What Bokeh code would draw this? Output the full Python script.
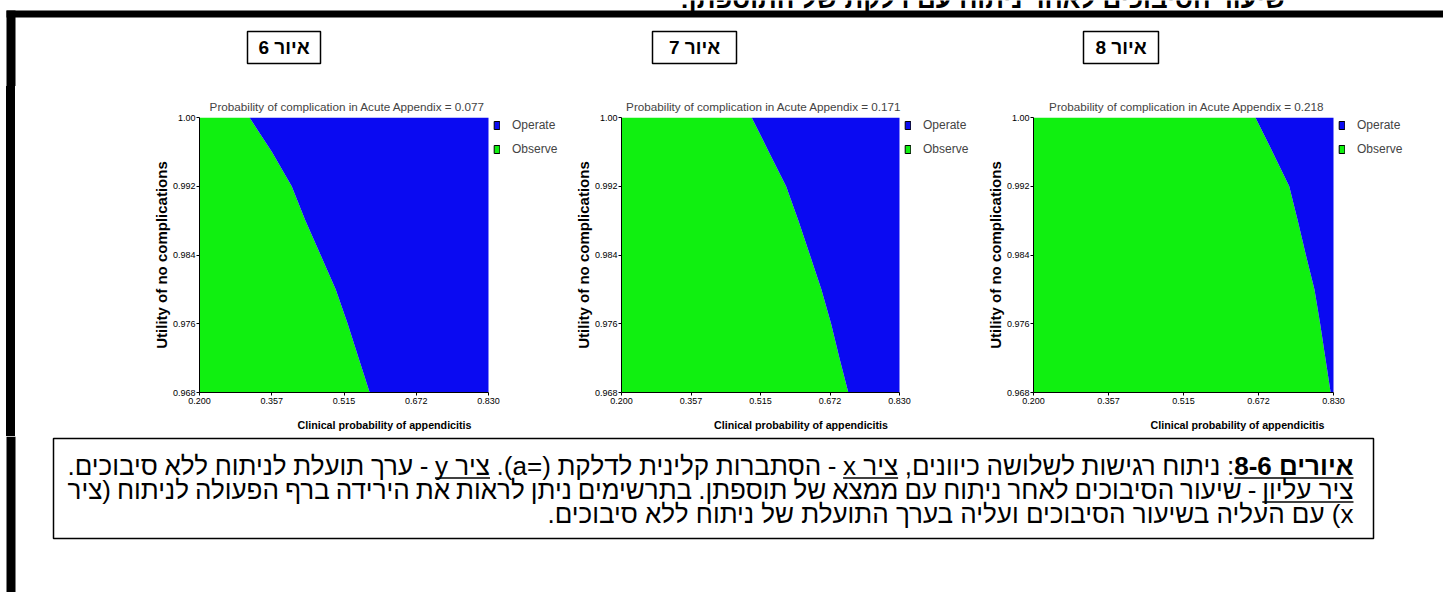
import subprocess
from bokeh.plotting import figure
from bokeh.layouts import column, row, Spacer
from bokeh.models import Range1d, FixedTicker, Legend, LegendItem, ColumnDataSource
from bokeh.core.properties import value
from bokeh.embed import file_html
from bokeh.resources import INLINE

# ---------------- data ----------------
x_ticks = [0.200, 0.3575, 0.515, 0.6725, 0.830]
x_tick_labels = ["0.200", "0.357", "0.515", "0.672", "0.830"]
y_ticks = [0.968, 0.976, 0.984, 0.992, 1.000]
y_tick_labels = ["0.968", "0.976", "0.984", "0.992", "1.00"]

utility = [1.000, 0.996, 0.992, 0.988, 0.984, 0.980, 0.976, 0.972, 0.968]
threshold_p077 = [0.309, 0.358, 0.401, 0.431, 0.464, 0.497, 0.523, 0.547, 0.571]
threshold_p171 = [0.495, 0.534, 0.573, 0.601, 0.627, 0.653, 0.675, 0.694, 0.714]
threshold_p218 = [0.666, 0.702, 0.737, 0.755, 0.772, 0.790, 0.802, 0.813, 0.824]
complication_probs = ["0.077", "0.171", "0.218"]
strategies = ["Operate", "Observe"]
figure_labels = ["איור 6", "איור 7", "איור 8"]
x_label = "Clinical probability of appendicitis"
y_label = "Utility of no complications"
title_prefix = "Probability of complication in Acute Appendix = "
page_heading = "שיעור הסיבוכים לאחר ניתוח עם דלקת של התוספתן:"
# caption words in reading order; (text, bold, underline, glued-to-previous)
caption_line1 = [("איורים 8-6", True, True, False), (":", False, False, True),
                 ("ניתוח", 0, 0, 0), ("רגישות", 0, 0, 0), ("לשלושה", 0, 0, 0), ("כיוונים,", 0, 0, 0),
                 ("ציר x", 0, 1, 0), ("-", 0, 0, 0), ("הסתברות", 0, 0, 0), ("קלינית", 0, 0, 0),
                 ("לדלקת", 0, 0, 0), ("(=a).", 0, 0, 0), ("ציר y", 0, 1, 0), ("-", 0, 0, 0),
                 ("ערך", 0, 0, 0), ("תועלת", 0, 0, 0), ("לניתוח", 0, 0, 0), ("ללא", 0, 0, 0),
                 ("סיבוכים.", 0, 0, 0)]
caption_line2 = [("ציר עליון", 0, 1, 0), ("-", 0, 0, 0), ("שיעור", 0, 0, 0), ("הסיבוכים", 0, 0, 0),
                 ("לאחר", 0, 0, 0), ("ניתוח", 0, 0, 0), ("עם", 0, 0, 0), ("ממצא", 0, 0, 0),
                 ("של", 0, 0, 0), ("תוספתן.", 0, 0, 0), ("בתרשימים", 0, 0, 0), ("ניתן", 0, 0, 0),
                 ("לראות", 0, 0, 0), ("את", 0, 0, 0), ("הירידה", 0, 0, 0), ("ברף", 0, 0, 0),
                 ("הפעולה", 0, 0, 0), ("לניתוח", 0, 0, 0), ("(ציר", 0, 0, 0)]
caption_line3 = [("x)", 0, 0, 0), ("עם", 0, 0, 0), ("העליה", 0, 0, 0), ("בשיעור", 0, 0, 0),
                 ("הסיבוכים", 0, 0, 0), ("ועליה", 0, 0, 0), ("בערך", 0, 0, 0), ("התועלת", 0, 0, 0),
                 ("של", 0, 0, 0), ("ניתוח", 0, 0, 0), ("ללא", 0, 0, 0), ("סיבוכים.", 0, 0, 0)]

# ---------------- styles ----------------
BLUE = "#0a0af2"
GREEN = "#10f010"
SANS = "Liberation Sans"
HEB = "Liberation Sans"
RLE, PDF = "\u202b", "\u202c"


def rtl(s):
    return RLE + s + PDF


def font_path(spec):
    try:
        out = subprocess.run(["fc-match", "-f", "%{file}", spec], capture_output=True,
                             text=True, timeout=10).stdout.strip()
        return out or None
    except Exception:
        return None


REG_PATH = font_path("Liberation Sans:style=Regular")
BLD_PATH = font_path("Liberation Sans:style=Bold")


def measure(s, size, bold=False):
    try:
        from PIL import ImageFont
        f = ImageFont.truetype(BLD_PATH if bold else REG_PATH, int(round(size * 10)))
        return float(f.getlength(s)) / 10.0
    except Exception:
        return len(s) * size * 0.5


TITLE_SIZE = 11.7
TOP_B, BOT_B, ROW_H = 31, 44, 350


def panel(thresholds, prob, w, bl, fw_plot):
    X0, X1 = x_ticks[0], x_ticks[-1]
    Y0, Y1 = y_ticks[0], y_ticks[-1]
    br = 2
    fw = w - bl - br                      # frame incl. legend area
    fh = ROW_H - TOP_B - BOT_B
    x_end = X0 + (X1 - X0) * fw / fw_plot
    p = figure(width=w, height=ROW_H, x_range=Range1d(X0, x_end), y_range=Range1d(Y0, Y1),
               output_backend="svg", toolbar_location=None,
               min_border_left=bl, min_border_right=br,
               min_border_top=TOP_B, min_border_bottom=BOT_B)
    n = len(utility)
    src = ColumnDataSource(dict(u=utility, t=thresholds, lo=[X0] * n, hi=[X1] * n))
    p.harea(x1="lo", x2="t", y="u", source=src, fill_color=GREEN, fill_alpha=1)
    p.harea(x1="t", x2="hi", y="u", source=src, fill_color=BLUE, fill_alpha=1)

    # legend swatches (off-frame single quads so the legend can draw them)
    off = X0 - 1.0
    r_op = p.quad(left=[off], right=[off], top=[Y0], bottom=[Y0], fill_color=BLUE,
                  line_color="black", line_width=1)
    r_ob = p.quad(left=[off], right=[off], top=[Y0], bottom=[Y0], fill_color=GREEN,
                  line_color="black", line_width=1)
    legend = Legend(items=[LegendItem(label=strategies[0], renderers=[r_op]),
                           LegendItem(label=strategies[1], renderers=[r_ob])],
                    location=(fw_plot + 5, fh - 39), orientation="vertical",
                    glyph_width=7, glyph_height=10, label_standoff=12, spacing=10,
                    padding=0, margin=0, label_height=12, label_width=40,
                    label_text_font=SANS, label_text_font_size="12px",
                    label_text_baseline="middle",
                    border_line_color=None, background_fill_alpha=0)
    p.add_layout(legend)

    title = title_prefix + prob
    p.title.text = title
    p.title.align = "left"
    p.title.offset = (fw_plot - measure(title, TITLE_SIZE)) / 2.0 + 3
    p.title.text_font = SANS
    p.title.text_font_size = "%.1fpx" % TITLE_SIZE
    p.title.text_font_style = "normal"
    p.title.standoff = 9

    p.xaxis.ticker = FixedTicker(ticks=x_ticks)
    p.xaxis.major_label_overrides = {t: l for t, l in zip(x_ticks, x_tick_labels)}
    p.xaxis.bounds = (X0, X1)
    p.yaxis.ticker = FixedTicker(ticks=y_ticks)
    p.yaxis.major_label_overrides = {t: l for t, l in zip(y_ticks, y_tick_labels)}
    for ax in (p.xaxis, p.yaxis):
        ax.major_tick_out = 3
        ax.major_tick_in = 0
        ax.minor_tick_out = 0
        ax.minor_tick_in = 0
        ax.axis_line_color = "black"
        ax.major_tick_line_color = "black"
        ax.major_label_text_font = SANS
        ax.major_label_text_font_size = "9px"
        ax.major_label_text_color = "black"
        ax.axis_label_text_font_style = "bold"
        ax.axis_label_text_color = "black"
        ax.axis_label_text_font = SANS
    p.xaxis.major_label_standoff = 2
    p.yaxis.major_label_standoff = 1
    p.xaxis.axis_label = x_label
    p.xaxis.axis_label_text_font_size = "10.7px"
    p.xaxis.axis_label_standoff = 12
    p.yaxis.axis_label = y_label
    p.yaxis.axis_label_text_font_size = "15px"
    p.yaxis.axis_label_standoff = 0
    p.grid.visible = False
    p.outline_line_color = None
    p.background_fill_color = "white"
    p.border_fill_color = "white"
    return p


p1 = panel(threshold_p077, complication_probs[0], 556, 184, 289)
p2 = panel(threshold_p171, complication_probs[1], 411, 50, 278)
p3 = panel(threshold_p218, complication_probs[2], 461, 51, 300)


def blank(w, h, x0, x1, y_top, y_bottom):
    f = figure(width=w, height=h, x_range=Range1d(x0, x1), y_range=Range1d(y_bottom, y_top),
               output_backend="svg", toolbar_location=None,
               x_axis_location=None, y_axis_location=None,
               min_border=0, min_border_left=0, min_border_right=0,
               min_border_top=0, min_border_bottom=0)
    f.grid.visible = False
    f.outline_line_color = None
    f.background_fill_color = "white"
    f.border_fill_color = "white"
    return f


# rendered glyph bottoms sit about this far below the requested alphabetic y
BASE_SHIFT = 10

# ---- header (screen y 0..86), data coords = screen pixels ----
hdr = blank(1443, 86, 0, 1443, 0, 86)
hdr.text(x=[1285], y=[8 - BASE_SHIFT], text=[rtl(page_heading)], text_align="right",
         text_baseline="alphabetic", text_font=value(HEB), text_font_size="26px",
         text_font_style="bold", text_color="black")
hdr.quad(left=[6], right=[1443], top=[10], bottom=[17], fill_color="black", line_color=None)
hdr.quad(left=[6], right=[15], top=[10], bottom=[86], fill_color="black", line_color=None)
box_l = [247, 652, 1083]
box_r = [320, 736, 1158]
hdr.quad(left=box_l, right=box_r, top=[31] * 3, bottom=[63] * 3,
         fill_color="white", line_color="black", line_width=1.5)
hdr.text(x=[(a + b) / 2 for a, b in zip(box_l, box_r)], y=[47] * 3, text=figure_labels,
         text_align="center", text_baseline="middle", text_font=value(HEB),
         text_font_size="19px", text_font_style="bold", text_color="black")

# ---- left bar beside the plot row ----
gap = Spacer(width=6, height=ROW_H)
bar = Spacer(width=9, height=ROW_H, styles={"background-color": "black"})

# ---- caption (screen y 436..592) ----
cap = blank(1443, 156, 0, 1443, 436, 592)
cap.quad(left=[6], right=[15], top=[436], bottom=[592], fill_color="black", line_color=None)
cap.quad(left=[53], right=[1373], top=[438], bottom=[538], fill_color=None,
         line_color="black", line_width=1.5)

FSZ = 26
TEXT_RIGHT, TEXT_LEFT = 1353, 67
glyph_bottoms = [475, 499, 523]
space_w = measure(" ", FSZ)


def place_line(tokens, bottom, justify):
    widths = [measure(t[0], FSZ, bool(t[1])) for t in tokens]
    gaps = [0.0 if t[3] else 1.0 for t in tokens[1:]]
    n_gaps = sum(gaps)
    if justify and n_gaps:
        g = (TEXT_RIGHT - TEXT_LEFT - sum(widths)) / n_gaps
    else:
        g = space_w
    xs, bold_flags, texts, ul = [], [], [], []
    xr = TEXT_RIGHT
    for i, (t, w) in enumerate(zip(tokens, widths)):
        if i > 0:
            xr -= g * gaps[i - 1]
        xs.append(xr)
        texts.append(rtl(t[0]))
        bold_flags.append(bool(t[1]))
        if t[2]:
            ul.append((xr - w, xr))
        xr -= w
    for flag in (False, True):
        sel = [k for k in range(len(xs)) if bold_flags[k] == flag]
        if sel:
            cap.text(x=[xs[k] for k in sel], y=[bottom - BASE_SHIFT] * len(sel),
                     text=[texts[k] for k in sel],
                     text_align="right", text_baseline="alphabetic", text_font=value(HEB),
                     text_font_size="%dpx" % FSZ, text_font_style="bold" if flag else "normal",
                     text_color="black")
    if ul:
        cap.segment(x0=[a for a, b in ul], y0=[bottom + 2.5] * len(ul),
                    x1=[b for a, b in ul], y1=[bottom + 2.5] * len(ul),
                    line_color="black", line_width=1.4)


place_line(caption_line1, glyph_bottoms[0], True)
place_line(caption_line2, glyph_bottoms[1], True)
place_line(caption_line3, glyph_bottoms[2], False)

layout = column(hdr, row(gap, bar, p1, p2, p3), cap)
open("out.html", "w").write(file_html(layout, INLINE))
